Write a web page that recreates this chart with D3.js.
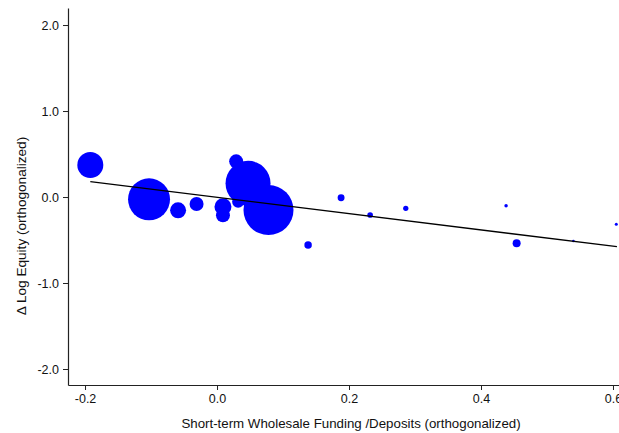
<!DOCTYPE html>
<html>
<head>
<meta charset="utf-8">
<script src="https://cdn.jsdelivr.net/npm/d3@7"></script>
<style>
  html, body { margin: 0; padding: 0; background: #fff; }
  svg { display: block; font-family: "Liberation Sans", Arial, sans-serif; }
</style>
</head>
<body>
<div id="chart"></div>
<script>
// Bank-level observations: funding ratio vs. change in log equity (both orthogonalized)
const fundingRatio = [-0.192, -0.103, -0.059, -0.031, 0.009, 0.009, 0.029, 0.032, 0.047, 0.078,
                      0.138, 0.188, 0.232, 0.286, 0.438, 0.454, 0.540, 0.605];
const logEquityChange = [0.372, -0.027, -0.155, -0.081, -0.113, -0.213, 0.415, -0.055, 0.159, -0.151,
                         -0.558, -0.008, -0.209, -0.131, -0.101, -0.538, -0.512, -0.317];
// Observation weights (bubble area)
const weights = [169, 441, 64, 49, 72, 49, 49, 36, 506, 625,
                 14, 12, 8, 7, 3, 16, 1.7, 2.3];

// Weighted linear fit, endpoints over the observed range
const fitX = [-0.192, 0.606];
const fitY = [0.178, -0.578];

const xTicks = [-0.2, 0.0, 0.2, 0.4, 0.6];
const yTicks = [-2.0, -1.0, 0.0, 1.0, 2.0];

const W = 619, H = 433;
const svg = d3.select("#chart").append("svg").attr("width", W).attr("height", H);

const x = d3.scaleLinear().domain([-0.2258, 0.6091]).range([68, 619]);
const y = d3.scaleLinear().domain([-2.186, 2.198]).range([385, 8]);
const r = d3.scaleSqrt().domain([0, d3.max(weights)]).range([0, 25]);

// One decimal, plain hyphen for negatives
const fmt = v => d3.format(".1f")(v).replace("\u2212", "-");

// Axes
const xAxis = svg.append("g")
  .attr("transform", `translate(0,385)`)
  .call(d3.axisBottom(x).tickValues(xTicks).tickFormat(fmt).tickSizeInner(5).tickSizeOuter(0).tickPadding(4));
const yAxis = svg.append("g")
  .attr("transform", `translate(68,0)`)
  .call(d3.axisLeft(y).tickValues(yTicks).tickFormat(fmt).tickSizeInner(5).tickSizeOuter(0).tickPadding(4));

[xAxis, yAxis].forEach(g => {
  g.selectAll("path.domain").attr("stroke", "#222").attr("stroke-width", 1.2);
  g.selectAll(".tick line").attr("stroke", "#222");
  g.selectAll(".tick text").attr("fill", "#111").style("font-size", "12.5px")
    .style("font-family", "'Liberation Sans', Arial, sans-serif");
});

// Bubbles
const pts = fundingRatio.map((v, i) => ({ x: v, y: logEquityChange[i], w: weights[i] }));
svg.append("g").selectAll("circle")
  .data(pts)
  .join("circle")
  .attr("cx", d => x(d.x))
  .attr("cy", d => y(d.y))
  .attr("r", d => r(d.w))
  .attr("fill", "#0000ff");

// Fitted line
svg.append("path")
  .datum(fitX.map((v, i) => [v, fitY[i]]))
  .attr("d", d3.line().x(d => x(d[0])).y(d => y(d[1])))
  .attr("stroke", "#000")
  .attr("stroke-width", 1.3)
  .attr("fill", "none");

// Axis titles
svg.append("text")
  .attr("x", 351).attr("y", 428)
  .attr("text-anchor", "middle")
  .attr("fill", "#111")
  .style("font-size", "13.3px")
  .text("Short-term Wholesale Funding /Deposits (orthogonalized)");

svg.append("text")
  .attr("transform", "translate(26,226) rotate(-90)")
  .attr("text-anchor", "middle")
  .attr("fill", "#111")
  .style("font-size", "13.6px")
  .text("Δ Log Equity (orthogonalized)");
</script>
</body>
</html>
